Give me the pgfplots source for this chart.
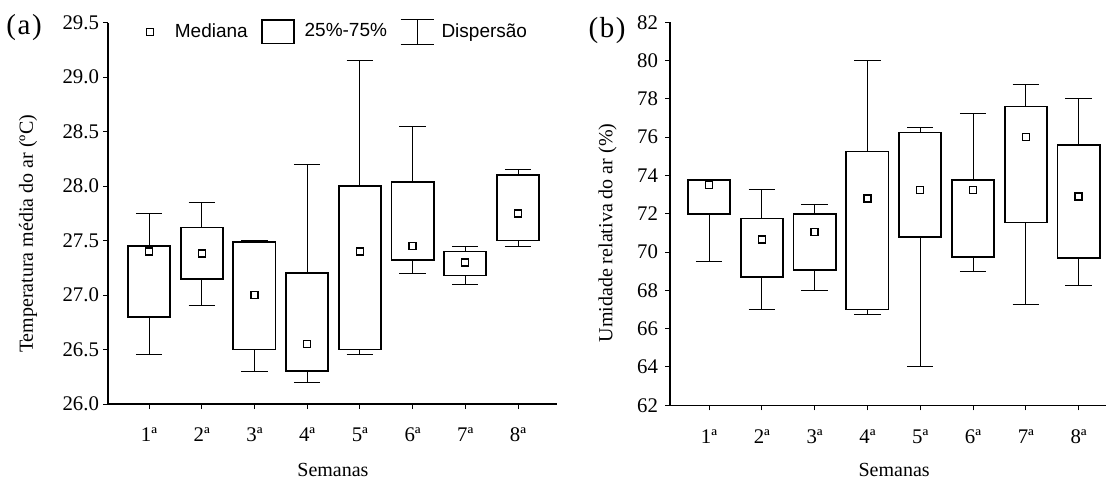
\documentclass[border=0pt]{standalone}
\usepackage{fontspec}
\setmainfont{Liberation Serif}
\setsansfont{Liberation Sans}
\usepackage{pgfplots}
\pgfplotsset{compat=1.18}
\usepgfplotslibrary{statistics}

\pgfplotsset{
 mybox/.style={
  scale only axis,
  axis x line*=bottom, axis y line*=left,
  axis line style={-, line width=0.6pt},
  tick align=outside,
  major tick length=2.5pt,
  every tick/.style={black, line width=0.5pt},
  xtick={1,...,8},
  xticklabels={1ª,2ª,3ª,4ª,5ª,6ª,7ª,8ª},
  minor tick num=0,
  tick label style={font=\fontsize{10.4}{12}\selectfont},
  xticklabel style={yshift=-6pt},
  /pgf/number format/assume math mode=true,
  label style={font=\fontsize{10}{12}\selectfont},
  boxplot/draw direction=y,
  boxplot/box extend=0.8,
  boxplot/whisker extend=0.5,
  boxplot/every box/.style={line width=0.9pt},
  boxplot/every whisker/.style={line width=0.5pt},
  boxplot/every median/.style={draw=none},
  clip=false,
 },
 med/.style={only marks, mark=square*, mark size=1.75pt,
   mark options={fill=white, draw=black, line width=0.7pt, solid}},
}

\begin{document}
\begin{tikzpicture}
\begin{axis}[mybox,
  at={(54pt,38.5pt)}, anchor=south west,
  width=224.5pt, height=190.65pt,
  xmin=0.222, xmax=8.74,
  ymin=26, ymax=29.5,
  ytick={26,26.5,...,29.5},
  yticklabel style={xshift=1.5pt, /pgf/number format/fixed, /pgf/number format/fixed zerofill, /pgf/number format/precision=1},
  ylabel={Temperatura média do ar (ºC)},
  every axis y label/.style={at={(axis description cs:-0.178,0.446)}, anchor=center, rotate=90},
  xlabel={Semanas},
  every axis x label/.style={at={(axis description cs:0.501,-0.173)}, anchor=center},
  legend style={draw=none, fill=none, inner sep=0pt, font=\fontsize{9.5}{11}\sffamily,
    legend columns=3, at={(axis description cs:0.083,0.976)}, anchor=west,
    /tikz/every even column/.append style={column sep=4.5pt}},
]
\addlegendimage{legend image code/.code={\draw[line width=0.7pt, fill=white] (-1.75pt,-1.75pt) rectangle (1.75pt,1.75pt); \path[draw=none,fill=none] (-1.75pt,-1pt) rectangle (10.5pt,1pt);}}
\addlegendentry{Mediana}
\addlegendimage{legend image code/.code={\draw[line width=0.9pt] (0,-5.8pt) rectangle (16pt,5.8pt); \path[draw=none,fill=none] (0,-1pt) rectangle (19.5pt,1pt);}}
\addlegendentry{25\%-75\%}
\addlegendimage{legend image code/.code={\draw[line width=0.5pt] (0,-6.1pt)--(16.5pt,-6.1pt) (8.25pt,-6.1pt)--(8.25pt,6.1pt) (0,6.1pt)--(16.5pt,6.1pt); \path[draw=none,fill=none] (0,-1pt) rectangle (18.5pt,1pt);}}
\addlegendentry{Dispersão}

\addplot[black, boxplot prepared={draw position=1, lower whisker=26.45, lower quartile=26.8, median=27.4, upper quartile=27.45, upper whisker=27.75}] coordinates {};
\addplot[black, boxplot prepared={draw position=2, lower whisker=26.9, lower quartile=27.15, median=27.38, upper quartile=27.62, upper whisker=27.85}] coordinates {};
\addplot[black, boxplot prepared={draw position=3, lower whisker=26.3, lower quartile=26.5, median=27.0, upper quartile=27.49, upper whisker=27.5}] coordinates {};
\addplot[black, boxplot prepared={draw position=4, lower whisker=26.2, lower quartile=26.3, median=26.55, upper quartile=27.2, upper whisker=28.2}] coordinates {};
\addplot[black, boxplot prepared={draw position=5, lower whisker=26.45, lower quartile=26.5, median=27.4, upper quartile=28.0, upper whisker=29.15}] coordinates {};
\addplot[black, boxplot prepared={draw position=6, lower whisker=27.2, lower quartile=27.32, median=27.45, upper quartile=28.04, upper whisker=28.55}] coordinates {};
\addplot[black, boxplot prepared={draw position=7, lower whisker=27.1, lower quartile=27.18, median=27.3, upper quartile=27.4, upper whisker=27.45}] coordinates {};
\addplot[black, boxplot prepared={draw position=8, lower whisker=27.45, lower quartile=27.5, median=27.75, upper quartile=28.1, upper whisker=28.15}] coordinates {};
\addplot[med] coordinates {(1,27.4) (2,27.38) (3,27.0) (4,26.55) (5,27.4) (6,27.45) (7,27.3) (8,27.75)};
\end{axis}

\begin{axis}[mybox,
  at={(335pt,37.85pt)}, anchor=south west,
  width=218pt, height=191.5pt,
  xmin=0.261, xmax=8.519,
  ymin=62, ymax=82,
  ytick={62,64,...,82},
  ylabel={Umidade relativa do ar (\%)},
  every axis y label/.style={at={(axis description cs:-0.143,0.45)}, anchor=center, rotate=90},
  xlabel={Semanas},
  every axis x label/.style={at={(axis description cs:0.514,-0.169)}, anchor=center},
]
\addplot[black, boxplot prepared={draw position=1, lower whisker=69.5, lower quartile=72.0, median=73.5, upper quartile=73.75, upper whisker=73.8}] coordinates {};
\addplot[black, boxplot prepared={draw position=2, lower whisker=67.0, lower quartile=68.7, median=70.65, upper quartile=71.75, upper whisker=73.25}] coordinates {};
\addplot[black, boxplot prepared={draw position=3, lower whisker=68.0, lower quartile=69.05, median=71.05, upper quartile=72.0, upper whisker=72.5}] coordinates {};
\addplot[black, boxplot prepared={draw position=4, lower whisker=66.75, lower quartile=67.0, median=72.8, upper quartile=75.25, upper whisker=80.0}] coordinates {};
\addplot[black, boxplot prepared={draw position=5, lower whisker=64.0, lower quartile=70.8, median=73.25, upper quartile=76.25, upper whisker=76.5}] coordinates {};
\addplot[black, boxplot prepared={draw position=6, lower whisker=69.0, lower quartile=69.75, median=73.25, upper quartile=73.75, upper whisker=77.25}] coordinates {};
\addplot[black, boxplot prepared={draw position=7, lower whisker=67.25, lower quartile=71.55, median=76.0, upper quartile=77.6, upper whisker=78.75}] coordinates {};
\addplot[black, boxplot prepared={draw position=8, lower whisker=68.25, lower quartile=69.7, median=72.9, upper quartile=75.6, upper whisker=78.0}] coordinates {};
\addplot[med] coordinates {(1,73.5) (2,70.65) (3,71.05) (4,72.8) (5,73.25) (6,73.25) (7,76.0) (8,72.9)};
\end{axis}

\node[font=\fontsize{14.5}{16}\selectfont] at (12pt,226.5pt) {(\kern0.8pt a\kern0.8pt)};
\node[font=\fontsize{14.5}{16}\selectfont] at (303.5pt,225pt) {(\kern0.8pt b\kern0.8pt)};
\pgfresetboundingbox
\path (0,0) rectangle (553.5pt,240.5pt);
\end{tikzpicture}
\end{document}
